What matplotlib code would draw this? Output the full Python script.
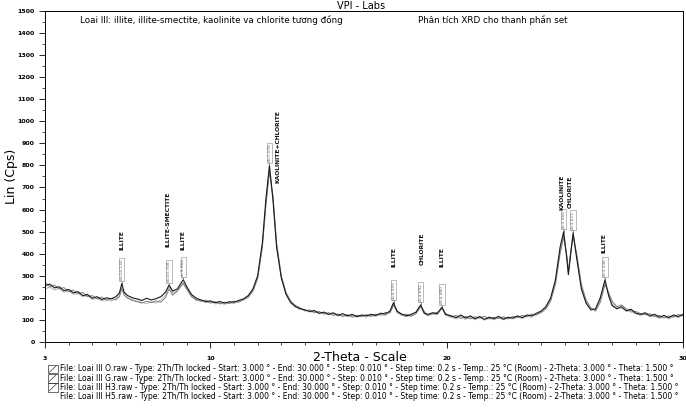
import numpy as np
import matplotlib.pyplot as plt
from matplotlib.patches import Rectangle
from matplotlib.lines import Line2D

# 2-theta grid (deg) and counts
two_theta = [
    3.0, 3.2, 3.4, 3.6, 3.8, 4.0, 4.2, 4.4, 4.6, 4.8,
    5.0, 5.2, 5.4, 5.6, 5.8, 6.0, 6.15, 6.25, 6.35, 6.5,
    6.7, 6.9, 7.1, 7.3, 7.5, 7.7, 7.9, 8.1, 8.25, 8.4,
    8.6, 8.85, 9.0, 9.2, 9.4, 9.6, 9.8, 10.0, 10.2, 10.4,
    10.6, 10.8, 11.0, 11.2, 11.4, 11.6, 11.8, 12.0, 12.2, 12.35,
    12.5, 12.65, 12.8, 13.0, 13.2, 13.4, 13.6, 13.8, 14.0, 14.2,
    14.4, 14.6, 14.8, 15.0, 15.2, 15.4, 15.6, 15.8, 16.0, 16.2,
    16.4, 16.6, 16.8, 17.0, 17.2, 17.4, 17.6, 17.75, 17.9, 18.1,
    18.3, 18.5, 18.7, 18.9, 19.05, 19.2, 19.4, 19.6, 19.8, 19.95,
    20.2, 20.4, 20.6, 20.8, 21.0, 21.2, 21.4, 21.6, 21.8, 22.0,
    22.2, 22.4, 22.6, 22.8, 23.0, 23.2, 23.4, 23.6, 23.8, 24.0,
    24.2, 24.4, 24.6, 24.8, 24.95, 25.08, 25.15, 25.25, 25.35, 25.5,
    25.7, 25.9, 26.1, 26.3, 26.5, 26.7, 26.85, 27.0, 27.2, 27.4,
    27.6, 27.8, 28.0, 28.2, 28.4, 28.6, 28.8, 29.0, 29.2, 29.4,
    29.6, 29.8, 30.0]

cps_O = [
    255, 262, 245, 250, 232, 238, 222, 228, 210, 215,
    198, 205, 192, 200, 195, 205, 222, 265, 225, 210,
    200, 195, 188, 198, 190, 196, 205, 225, 258, 230,
    240, 282, 250, 215, 198, 190, 182, 186, 178, 183,
    176, 182, 180, 188, 195, 210, 240, 300, 450, 650,
    800, 640, 430, 290, 215, 178, 160, 150, 145, 138,
    142, 130, 135, 125, 132, 120, 128, 118, 125, 115,
    122, 118, 125, 120, 130, 126, 140, 178, 138, 126,
    118, 125, 135, 168, 130, 125, 132, 128, 158, 125,
    118, 110, 122, 108, 118, 105, 115, 102, 112, 105,
    116, 103, 112, 108, 118, 110, 122, 118, 130, 140,
    160, 200, 280, 430, 500, 380, 305, 400, 495, 380,
    240, 175, 145, 150, 200, 282, 210, 165, 150, 160,
    140, 148, 130, 125, 132, 118, 125, 112, 120, 110,
    122, 115, 125]

cps_G = [
    270, 250, 258, 240, 246, 228, 235, 218, 224, 205,
    210, 195, 203, 188, 198, 190, 205, 240, 212, 198,
    188, 182, 176, 185, 178, 186, 180, 200, 240, 212,
    230, 265, 238, 205, 192, 184, 190, 176, 182, 172,
    180, 174, 185, 180, 192, 205, 232, 290, 430, 620,
    770, 660, 450, 300, 225, 185, 165, 155, 140, 145,
    132, 138, 126, 133, 120, 127, 115, 124, 112, 120,
    114, 124, 116, 126, 122, 134, 132, 165, 142, 122,
    126, 116, 128, 160, 138, 120, 128, 134, 150, 130,
    112, 120, 106, 116, 104, 114, 108, 116, 104, 112,
    106, 114, 104, 116, 110, 120, 114, 126, 122, 135,
    150, 185, 260, 400, 475, 395, 320, 410, 480, 400,
    260, 190, 155, 140, 180, 260, 225, 185, 160, 168,
    150, 140, 138, 128, 124, 128, 115, 120, 108, 118,
    112, 124, 118]

cps_H3 = [
    240, 248, 236, 242, 225, 230, 215, 220, 205, 210,
    192, 198, 186, 194, 185, 196, 210, 250, 218, 200,
    192, 185, 180, 174, 182, 176, 190, 212, 250, 220,
    232, 270, 242, 210, 186, 192, 178, 184, 172, 178,
    170, 178, 174, 184, 190, 200, 228, 285, 440, 630,
    785, 650, 440, 295, 220, 182, 158, 148, 148, 135,
    138, 128, 132, 122, 128, 118, 122, 114, 120, 112,
    118, 112, 120, 116, 124, 120, 134, 170, 132, 120,
    114, 120, 128, 162, 128, 118, 126, 122, 152, 120,
    112, 104, 116, 102, 112, 100, 110, 98, 108, 100,
    110, 100, 108, 104, 112, 106, 116, 112, 124, 132,
    152, 192, 270, 415, 490, 390, 312, 405, 488, 390,
    250, 182, 150, 145, 190, 272, 218, 172, 155, 152,
    145, 135, 128, 120, 126, 114, 118, 106, 114, 104,
    116, 110, 120]

# peak identification
peak_pos = [6.25, 8.25, 8.85, 12.5, 17.75, 18.9, 19.8, 24.95, 25.35, 26.7]
peak_name = ["ILLITE", "ILLITE-SMECTITE", "ILLITE", "KAOLINITE+CHLORITE", "ILLITE",
             "CHLORITE", "ILLITE", "KAOLINITE", "CHLORITE", "ILLITE"]
peak_d = ["d=14.130", "d=10.708", "d=9.984", "d=7.076", "d=4.993",
          "d=4.692", "d=4.480", "d=3.566", "d=3.511", "d=3.336"]
name_x = [6.25, 8.2, 8.85, 12.85, 17.75, 18.95, 19.8, 24.9, 25.25, 26.65]
name_y = [415, 428, 415, 722, 340, 348, 340, 600, 605, 402]

legend_lines = [
    "File: Loai III O.raw - Type: 2Th/Th locked - Start: 3.000 ° - End: 30.000 ° - Step: 0.010 ° - Step time: 0.2 s - Temp.: 25 °C (Room) - 2-Theta: 3.000 ° - Theta: 1.500 °",
    "File: Loai III G.raw - Type: 2Th/Th locked - Start: 3.000 ° - End: 30.000 ° - Step: 0.010 ° - Step time: 0.2 s - Temp.: 25 °C (Room) - 2-Theta: 3.000 ° - Theta: 1.500 °",
    "File: Loai III H3.raw - Type: 2Th/Th locked - Start: 3.000 ° - End: 30.000 ° - Step: 0.010 ° - Step time: 0.2 s - Temp.: 25 °C (Room) - 2-Theta: 3.000 ° - Theta: 1.500 °",
    "File: Loai III H5.raw - Type: 2Th/Th locked - Start: 3.000 ° - End: 30.000 ° - Step: 0.010 ° - Step time: 0.2 s - Temp.: 25 °C (Room) - 2-Theta: 3.000 ° - Theta: 1.500 °",
]

fig = plt.figure(figsize=(6.86, 4.08), dpi=100)
ax = fig.add_axes([0.0656, 0.162, 0.930, 0.811])

ax.plot(two_theta, cps_H3, color="#b5b5b5", lw=0.7)
ax.plot(two_theta, cps_G, color="#7d7d7d", lw=0.7)
ax.plot(two_theta, cps_O, color="#1a1a1a", lw=0.8)

ax.set_xlim(3, 30)
ax.set_ylim(0, 1500)
ax.set_xticks([3, 10, 20, 30])
ax.set_xticks(np.arange(3, 31, 1), minor=True)
ax.set_yticks(np.arange(0, 1501, 100))
ax.set_yticks(np.arange(0, 1501, 50), minor=True)
ax.tick_params(axis="both", which="major", labelsize=4.5, length=4, width=0.6, direction="out")
ax.tick_params(axis="x", which="major", pad=6)
ax.tick_params(axis="both", which="minor", length=2.5, width=0.5, direction="out")
for lab in ax.get_xticklabels() + ax.get_yticklabels():
    lab.set_fontweight("bold")
for s in ax.spines.values():
    s.set_linewidth(0.7)

ax.set_xlabel("2-Theta - Scale", fontsize=9)
ax.xaxis.set_label_coords(0.494, -0.028)
ax.set_ylabel("Lin (Cps)", fontsize=9)
ax.yaxis.set_label_coords(-0.042, 0.5)

# peak markers
top = dict(zip(two_theta, cps_O))
for x, d in zip(peak_pos, peak_d):
    y0 = top[x]
    ax.plot([x, x], [y0, y0 + 12], color="#555555", lw=0.5)
    ax.text(x, y0 + 14, d, rotation=90, fontsize=3.2, color="#666666",
            ha="center", va="bottom",
            bbox=dict(boxstyle="square,pad=0.15", fc="white", ec="#888888", lw=0.4))
for x, y, n in zip(name_x, name_y, peak_name):
    ax.text(x, y, n, rotation=90, fontsize=4.3, fontweight="bold",
            ha="center", va="bottom", color="#111111")

ax.text(0.055, 0.972, "Loai III: illite, illite-smectite, kaolinite va chlorite tương đồng",
        transform=ax.transAxes, fontsize=6.3, va="center", ha="left")
ax.text(0.585, 0.972, "Phân tích XRD cho thanh phần set",
        transform=ax.transAxes, fontsize=6.3, va="center", ha="left")
fig.text(0.527, 0.998, "VPI - Labs", fontsize=7, ha="center", va="top")

# file legend at the bottom
ys = [0.0956, 0.0735, 0.0505, 0.028]
for i, (y, t) in enumerate(zip(ys, legend_lines)):
    if i < 3:
        fig.patches.append(Rectangle((0.070, y - 0.011), 0.014, 0.022, transform=fig.transFigure,
                                     fill=False, ec="#333333", lw=0.5))
        fig.lines.append(Line2D([0.072, 0.082], [y - 0.008, y + 0.008], transform=fig.transFigure,
                                color="#333333", lw=0.5))
    fig.text(0.088, y, t, fontsize=5.5, va="center", ha="left")

fig.savefig("out.png", dpi=100)
